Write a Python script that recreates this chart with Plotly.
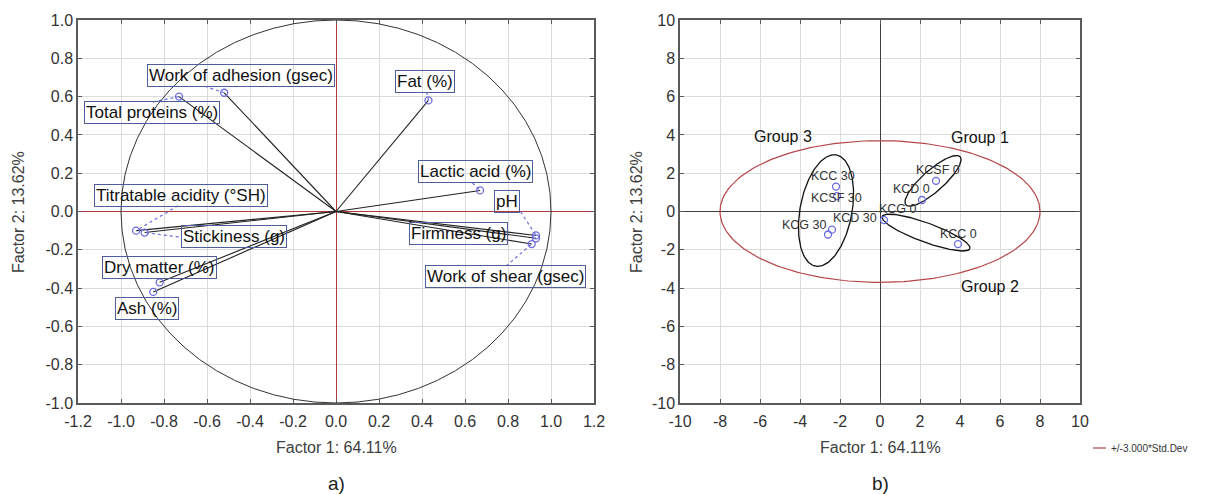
import numpy as np
import plotly.graph_objects as go

# ---------------- data: loadings (panel a) ----------------
variables = ["Work of adhesion (gsec)", "Total proteins (%)", "Fat (%)", "Lactic acid (%)",
             "pH", "Firmness (g)", "Work of shear (gsec)", "Titratable acidity (°SH)",
             "Stickiness (g)", "Dry matter (%)", "Ash (%)"]
load_f1 = [-0.52, -0.73, 0.43, 0.67, 0.93, 0.93, 0.91, -0.93, -0.89, -0.82, -0.85]
load_f2 = [0.62, 0.60, 0.58, 0.11, -0.125, -0.14, -0.17, -0.10, -0.11, -0.37, -0.42]

# ---------------- data: scores (panel b) ----------------
samples = ["KCSF 0", "KCD 0", "KCG 0", "KCC 0", "KCC 30", "KCSF 30", "KCD 30", "KCG 30"]
score_f1 = [2.8, 2.1, 0.2, 3.9, -2.2, -2.15, -2.4, -2.6]
score_f2 = [1.6, 0.6, -0.45, -1.7, 1.3, 0.8, -0.95, -1.2]

groups = ["Group 1", "Group 2", "Group 3"]

ticks_a = [-1.2, -1.0, -0.8, -0.6, -0.4, -0.2, 0.0, 0.2, 0.4, 0.6, 0.8, 1.0, 1.2]
ticks_a_y = [-1.0, -0.8, -0.6, -0.4, -0.2, 0.0, 0.2, 0.4, 0.6, 0.8, 1.0]
ticks_b = [-10, -8, -6, -4, -2, 0, 2, 4, 6, 8, 10]
ticktext_a = ["%.1f" % v for v in ticks_a]
ticktext_a_y = ["%.1f" % v for v in ticks_a_y]
ticktext_b = ["%d" % v for v in ticks_b]

x_title = "Factor 1: 64.11%"
y_title = "Factor 2: 13.62%"
legend_text = "+/-3.000*Std.Dev"

# ---------------- layout helpers (positions / styles) ----------------
label_pos_a = [(-0.44, 0.71), (-0.854, 0.517), (0.414, 0.679), (0.647, 0.209),
               (0.795, 0.054), (0.569, -0.117), (0.787, -0.339), (-0.721, 0.086),
               (-0.476, -0.130), (-0.819, -0.290), (-0.881, -0.507)]
leader_from_a = [(-0.611, 0.654), (-0.852, 0.572), (0.422, 0.624), (0.635, 0.149),
                 (0.859, -0.001), None, (0.791, -0.285), (-0.735, 0.030),
                 (-0.732, -0.133), None, None]
label_pos_b = [(2.9, 2.18), (1.55, 1.17), (0.91, 0.12), (3.9, -1.16),
               (-2.33, 1.83), (-2.18, 0.7), (-1.23, -0.35), (-3.79, -0.72)]
group_pos = [(5.02, 3.89), (5.5, -3.9), (-4.83, 3.93)]
# ellipse: cx, cy, a, b, angle(deg)
group_ell = [(2.65, 1.6, 1.85, 0.55, 43), (2.3, -1.1, 2.35, 0.5, -21), (-2.7, 0.05, 2.95, 1.3, 80)]
conf_ell = (0.0, 0.0, 8.0, 3.7, 0)

# page body has an 8px margin: figure is drawn 8px in from the window corner
OFF = 8
W, H = 1216 - OFF, 494 - OFF
def px(x):
    return (x - OFF) / W
def py(y):
    return 1 - (y - OFF) / H

FONT = "Liberation Sans, Arial, sans-serif"
BLUE = "#6b6be0"
BOX = "#4e5d9c"
RED = "#b5474b"

def ellipse(cx, cy, a, b, ang, n=200):
    t = np.linspace(0, 2 * np.pi, n)
    th = np.deg2rad(ang)
    x = cx + a * np.cos(t) * np.cos(th) - b * np.sin(t) * np.sin(th)
    y = cy + a * np.cos(t) * np.sin(th) + b * np.sin(t) * np.cos(th)
    return x, y

fig = go.Figure()

# unit circle
fig.add_shape(type="circle", xref="x", yref="y", x0=-1, x1=1, y0=-1, y1=1,
              line=dict(color="#333333", width=1))

# vectors from origin
vx, vy = [], []
for a, b in zip(load_f1, load_f2):
    vx += [0, a, None]
    vy += [0, b, None]
fig.add_trace(go.Scatter(x=vx, y=vy, mode="lines", line=dict(color="#222222", width=1.1),
                         xaxis="x", yaxis="y", showlegend=False, hoverinfo="skip"))

# leader lines
lx, ly = [], []
for st, a, b in zip(leader_from_a, load_f1, load_f2):
    if st is None:
        continue
    lx += [st[0], a, None]
    ly += [st[1], b, None]
fig.add_trace(go.Scatter(x=lx, y=ly, mode="lines", line=dict(color=BLUE, width=1.2, dash="dot"),
                         xaxis="x", yaxis="y", showlegend=False, hoverinfo="skip"))

fig.add_trace(go.Scatter(x=load_f1, y=load_f2, mode="markers",
                         marker=dict(symbol="circle-open", size=7, color=BLUE, line=dict(width=1.3)),
                         xaxis="x", yaxis="y", showlegend=False, hoverinfo="skip"))

annotations = []
for name, (x, y) in zip(variables, label_pos_a):
    annotations.append(dict(x=x, y=y, xref="x", yref="y", text=name, showarrow=False,
                            font=dict(family=FONT, size=17, color="#111111"),
                            bordercolor=BOX, borderwidth=1, borderpad=1,
                            bgcolor="rgba(0,0,0,0)", xanchor="center", yanchor="middle"))

# panel b: confidence ellipse
ex, ey = ellipse(*conf_ell)
fig.add_trace(go.Scatter(x=ex, y=ey, mode="lines", line=dict(color=RED, width=1.2),
                         xaxis="x2", yaxis="y2", showlegend=False, hoverinfo="skip"))
for g in group_ell:
    gx, gy = ellipse(*g)
    fig.add_trace(go.Scatter(x=gx, y=gy, mode="lines", line=dict(color="#111111", width=1.3),
                             xaxis="x2", yaxis="y2", showlegend=False, hoverinfo="skip"))

fig.add_trace(go.Scatter(x=score_f1, y=score_f2, mode="markers",
                         marker=dict(symbol="circle-open", size=7, color=BLUE, line=dict(width=1.3)),
                         xaxis="x2", yaxis="y2", showlegend=False, hoverinfo="skip"))

for name, (x, y) in zip(samples, label_pos_b):
    annotations.append(dict(x=x, y=y, xref="x2", yref="y2", text=name, showarrow=False,
                            font=dict(family=FONT, size=12.5, color="#333333"),
                            xanchor="center", yanchor="middle"))
for name, (x, y) in zip(groups, group_pos):
    annotations.append(dict(x=x, y=y, xref="x2", yref="y2", text=name, showarrow=False,
                            font=dict(family=FONT, size=16, color="#111111"),
                            xanchor="center", yanchor="middle"))

# axis titles, panel letters, legend
for cx in (336, 880):
    annotations.append(dict(x=px(cx), y=py(447), xref="paper", yref="paper", text=x_title,
                            showarrow=False, font=dict(family=FONT, size=16, color="#404040"),
                            xanchor="center", yanchor="middle"))
for cx in (18, 636):
    annotations.append(dict(x=px(cx), y=py(212), xref="paper", yref="paper", text=y_title,
                            showarrow=False, textangle=-90,
                            font=dict(family=FONT, size=16, color="#404040"),
                            xanchor="center", yanchor="middle"))
for txt, cx in (("a)", 336), ("b)", 880)):
    annotations.append(dict(x=px(cx), y=py(483), xref="paper", yref="paper", text=txt,
                            showarrow=False, font=dict(family=FONT, size=19, color="#222222"),
                            xanchor="center", yanchor="middle"))
annotations.append(dict(x=px(1109), y=py(448), xref="paper", yref="paper", text=legend_text,
                        showarrow=False, font=dict(family=FONT, size=10, color="#333333"),
                        xanchor="left", yanchor="middle"))
fig.add_shape(type="line", xref="paper", yref="paper", x0=px(1093), x1=px(1106),
              y0=py(448), y1=py(448), line=dict(color=RED, width=1.2))

ydom = [py(403), py(20)]
axis_common = dict(showgrid=True, gridcolor="#dcdcdc", gridwidth=1, showline=True,
                   linecolor="#5a5a5a", linewidth=1.5, mirror="ticks", ticks="inside",
                   ticklen=4, tickcolor="#5a5a5a", automargin=False,
                   tickfont=dict(family=FONT, size=16, color="#333333"), zeroline=True,
                   zerolinewidth=1)

fig.update_layout(
    width=W, height=H, autosize=False,
    margin=dict(l=0, r=0, t=0, b=0, pad=0),
    paper_bgcolor="white", plot_bgcolor="white",
    showlegend=False,
    annotations=annotations,
    xaxis=dict(domain=[px(78), px(594)], range=[-1.2, 1.2], tickvals=ticks_a,
               ticktext=ticktext_a, anchor="y", zerolinecolor="#b03a3a",
               ticklabelstandoff=3, **axis_common),
    yaxis=dict(domain=ydom, range=[-1, 1], tickvals=ticks_a_y, ticktext=ticktext_a_y,
               anchor="x", zerolinecolor="#b03a3a", **axis_common),
    xaxis2=dict(domain=[px(680), px(1080)], range=[-10, 10], tickvals=ticks_b,
                ticktext=ticktext_b, anchor="y2", zerolinecolor="#404040",
                ticklabelstandoff=3, **axis_common),
    yaxis2=dict(domain=ydom, range=[-10, 10], tickvals=ticks_b, ticktext=ticktext_b,
                anchor="x2", zerolinecolor="#404040", **axis_common),
)

fig.write_html("out.html", config={"displayModeBar": False})
